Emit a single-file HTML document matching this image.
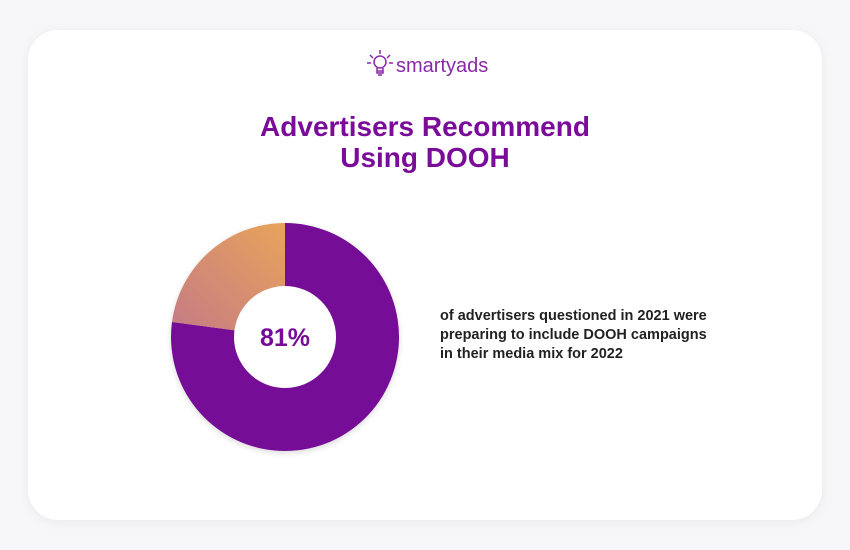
<!DOCTYPE html>
<html><head><style>
body{margin:0;width:850px;height:550px;background:#f7f7f9;font-family:"Liberation Sans",sans-serif;overflow:hidden}
.card{position:absolute;left:28px;top:30px;width:794px;height:490px;background:#fff;border-radius:30px;box-shadow:0 2px 12px rgba(0,0,0,0.06)}
.title{position:absolute;left:0;width:850px;top:111px;text-align:center;color:#7a0c99;font-size:28px;font-weight:bold;line-height:31px}
.txt{position:absolute;left:440px;top:307px;font-size:14.5px;font-weight:bold;color:#222;line-height:19px}
.logo{position:absolute;left:396px;top:55px;font-size:20px;color:#8a2aa8}
</style></head><body>
<div class="card"></div>
<svg style="position:absolute;left:364px;top:48px" width="32" height="32" viewBox="0 0 32 32" fill="none" stroke="#8a2aa8" stroke-width="1.5">
<circle cx="16" cy="14" r="6"/><path d="M13 20v5h6v-5M13 23h6M14 27h4M16 2v4M6 7l3 3M26 7l-3 3M3 15h4M29 15h-4"/></svg>
<div class="logo">smartyads</div>
<div class="title">Advertisers Recommend<br>Using DOOH</div>
<svg style="position:absolute;left:0;top:0" width="850" height="550">
<defs><linearGradient id="g" x1="0" y1="1" x2="1" y2="0"><stop offset="0" stop-color="#c47a86"/><stop offset="1" stop-color="#e8a35a"/></linearGradient>
<filter id="s"><feDropShadow dx="0" dy="2" stdDeviation="3" flood-opacity="0.15"/></filter></defs>
<g filter="url(#s)">
<path d="M285 337L285 223A114 114 0 1 1 172 322Z" fill="#740c96"/>
<path d="M285 337L172 322A114 114 0 0 1 285 223Z" fill="url(#g)"/>
</g>
<circle cx="285" cy="337" r="51" fill="#fff"/>
<text x="285" y="346" text-anchor="middle" font-family="Liberation Sans" font-weight="bold" font-size="25" fill="#740c96">81%</text>
</svg>
<div class="txt">of advertisers questioned in 2021 were<br>preparing to include DOOH campaigns<br>in their media mix for 2022</div>
</body></html>
